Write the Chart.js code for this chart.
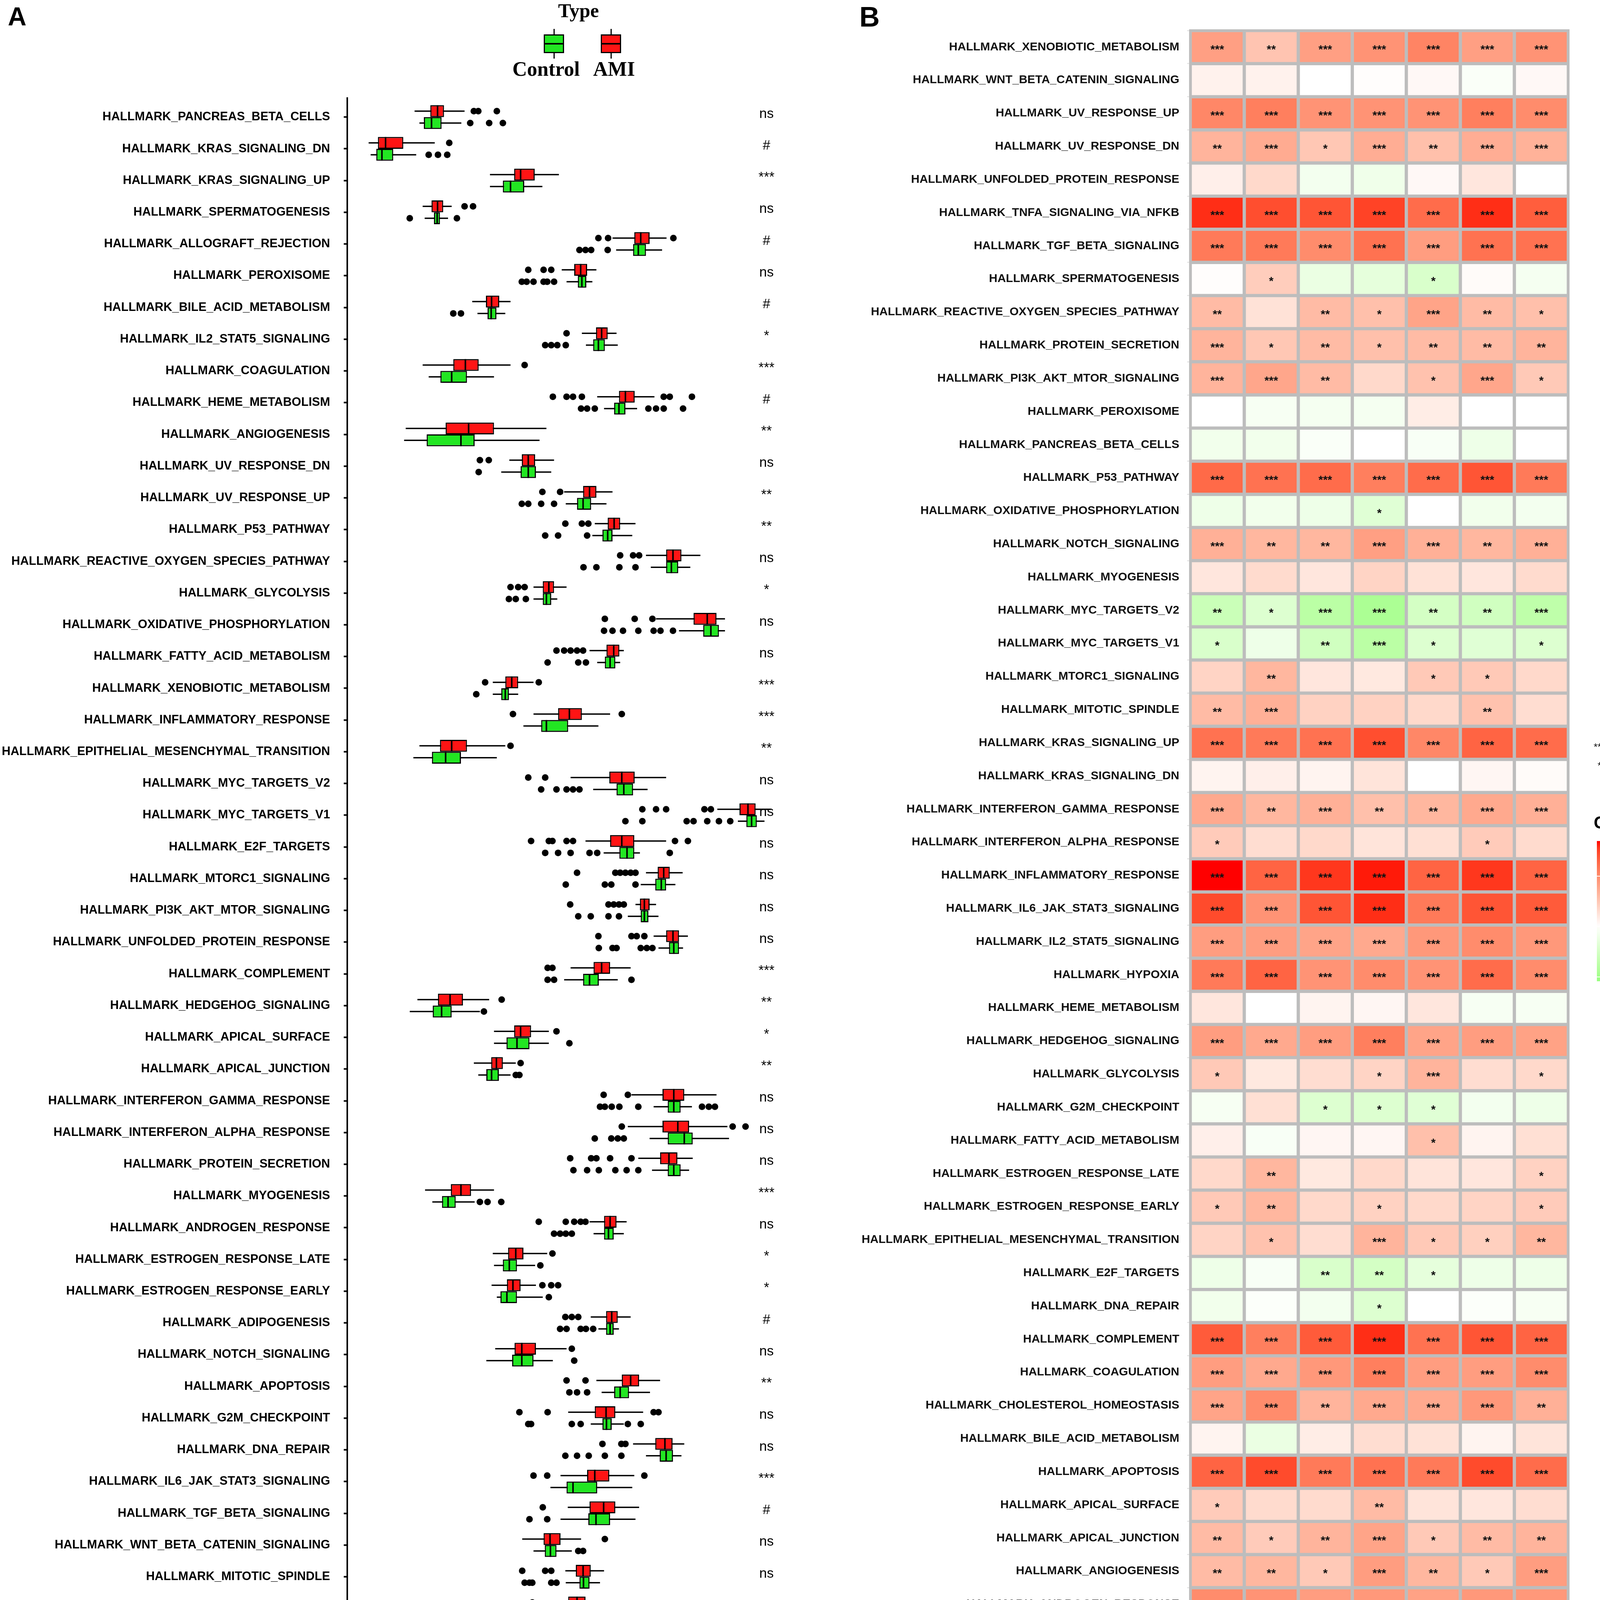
<!DOCTYPE html>
<html>
<head>
<meta charset="utf-8">
<script src="https://cdn.jsdelivr.net/npm/chart.js"></script>
<style>
html, body { margin: 0; padding: 0; background: #fff; }
#page { position: relative; width: 4328px; height: 4551px; overflow: hidden; background: #fff; font-family: 'Liberation Sans', Arial, sans-serif; }
.abs { position: absolute; white-space: nowrap; }
.serif { font-family: 'Liberation Serif', 'Times New Roman', serif; font-weight: bold; color: #000; }
.key { position: absolute; width: 46px; height: 42px; border: 3px solid #000; }
.key .mid { position: absolute; left: 0; right: 0; top: 19px; height: 4px; background: #000; }
.whisk { position: absolute; width: 3px; background: #000; }
.lgB { font-weight: bold; color: #000; }
</style>
</head>
<body>
<div id="page">
  <div class="abs" style="left:20px;top:4px;font-size:66px;font-weight:bold;">A</div>
  <div class="abs" style="left:2200px;top:2px;font-size:72px;font-weight:bold;">B</div>

  <!-- legend panel A -->
  <div class="abs serif" style="left:1381px;top:0px;width:200px;text-align:center;font-size:50px;line-height:54px;">Type</div>
  <div class="whisk" style="left:1417px;top:74px;height:16px;"></div>
  <div class="whisk" style="left:1417px;top:134px;height:16px;"></div>
  <div class="key" style="left:1392px;top:88px;background:#22e622;"><div class="mid"></div></div>
  <div class="whisk" style="left:1563px;top:74px;height:16px;"></div>
  <div class="whisk" style="left:1563px;top:134px;height:16px;"></div>
  <div class="key" style="left:1538px;top:88px;background:#ff1414;"><div class="mid"></div></div>
  <div class="abs serif" style="left:1298px;top:148px;width:200px;text-align:center;font-size:52px;line-height:58px;">Control</div>
  <div class="abs serif" style="left:1472px;top:148px;width:200px;text-align:center;font-size:52px;line-height:58px;">AMI</div>

  <div class="abs" style="left:0;top:0;"><canvas id="chartA" width="2100" height="4551"></canvas></div>
  <div class="abs" style="left:2150px;top:0;"><canvas id="chartB" width="1950" height="4551"></canvas></div>

  <!-- legend panel B -->
  <div class="abs" style="left:4040px;top:1892px;width:70px;text-align:right;font-size:26px;line-height:40px;color:#111;">***</div>
  <div class="abs lgB" style="left:4128px;top:1892px;font-size:30px;line-height:40px;">p&lt;0.001</div>
  <div class="abs" style="left:4040px;top:1940px;width:70px;text-align:right;font-size:26px;line-height:40px;color:#111;">**</div>
  <div class="abs lgB" style="left:4128px;top:1940px;font-size:30px;line-height:40px;">p&lt;0.01</div>
  <div class="abs" style="left:4040px;top:1988px;width:70px;text-align:right;font-size:26px;line-height:40px;color:#111;">*</div>
  <div class="abs lgB" style="left:4128px;top:1988px;font-size:30px;line-height:40px;">p&lt;0.05</div>
  <div class="abs lgB" style="left:4080px;top:2080px;font-size:44px;line-height:52px;">Correlation</div>
  <div id="cbar" class="abs" style="left:4088px;top:2153px;width:65px;height:359px;"></div>
  <div class="abs lgB" style="left:4175px;top:2221px;font-size:36px;line-height:42px;">0.5</div>
  <div class="abs lgB" style="left:4175px;top:2349px;font-size:36px;line-height:42px;">0.0</div>
  <div class="abs lgB" style="left:4175px;top:2478px;font-size:36px;line-height:42px;">&minus;0.5</div>
</div>

<script>
// ---------- panel A data ----------
var pathwaysA = ['HALLMARK_PANCREAS_BETA_CELLS','HALLMARK_KRAS_SIGNALING_DN','HALLMARK_KRAS_SIGNALING_UP','HALLMARK_SPERMATOGENESIS','HALLMARK_ALLOGRAFT_REJECTION','HALLMARK_PEROXISOME','HALLMARK_BILE_ACID_METABOLISM','HALLMARK_IL2_STAT5_SIGNALING','HALLMARK_COAGULATION','HALLMARK_HEME_METABOLISM','HALLMARK_ANGIOGENESIS','HALLMARK_UV_RESPONSE_DN','HALLMARK_UV_RESPONSE_UP','HALLMARK_P53_PATHWAY','HALLMARK_REACTIVE_OXYGEN_SPECIES_PATHWAY','HALLMARK_GLYCOLYSIS','HALLMARK_OXIDATIVE_PHOSPHORYLATION','HALLMARK_FATTY_ACID_METABOLISM','HALLMARK_XENOBIOTIC_METABOLISM','HALLMARK_INFLAMMATORY_RESPONSE','HALLMARK_EPITHELIAL_MESENCHYMAL_TRANSITION','HALLMARK_MYC_TARGETS_V2','HALLMARK_MYC_TARGETS_V1','HALLMARK_E2F_TARGETS','HALLMARK_MTORC1_SIGNALING','HALLMARK_PI3K_AKT_MTOR_SIGNALING','HALLMARK_UNFOLDED_PROTEIN_RESPONSE','HALLMARK_COMPLEMENT','HALLMARK_HEDGEHOG_SIGNALING','HALLMARK_APICAL_SURFACE','HALLMARK_APICAL_JUNCTION','HALLMARK_INTERFERON_GAMMA_RESPONSE','HALLMARK_INTERFERON_ALPHA_RESPONSE','HALLMARK_PROTEIN_SECRETION','HALLMARK_MYOGENESIS','HALLMARK_ANDROGEN_RESPONSE','HALLMARK_ESTROGEN_RESPONSE_LATE','HALLMARK_ESTROGEN_RESPONSE_EARLY','HALLMARK_ADIPOGENESIS','HALLMARK_NOTCH_SIGNALING','HALLMARK_APOPTOSIS','HALLMARK_G2M_CHECKPOINT','HALLMARK_DNA_REPAIR','HALLMARK_IL6_JAK_STAT3_SIGNALING','HALLMARK_TGF_BETA_SIGNALING','HALLMARK_WNT_BETA_CATENIN_SIGNALING','HALLMARK_MITOTIC_SPINDLE','HALLMARK_CHOLESTEROL_HOMEOSTASIS','HALLMARK_HYPOXIA','HALLMARK_TNFA_SIGNALING_VIA_NFKB'];

var sigA = ['ns','#','***','ns','#','ns','#','*','***','#','**','ns','**','**','ns','*','ns','ns','***','***','**','ns','ns','ns','ns','ns','ns','***','**','*','**','ns','ns','ns','***','ns','*','*','#','ns','**','ns','ns','***','#','ns','ns','***','***','***'];

// [whisker low, q1, median, q3, whisker high]
var amiStats = [
[0.120,0.159,0.177,0.193,0.244],[0.006,0.029,0.048,0.092,0.170],[0.307,0.367,0.383,0.418,0.478],[0.140,0.162,0.177,0.191,0.212],
[0.611,0.665,0.681,0.703,0.745],[0.485,0.516,0.532,0.548,0.571],[0.263,0.297,0.311,0.330,0.358],[0.535,0.570,0.584,0.599,0.621],
[0.140,0.216,0.246,0.279,0.358],[0.573,0.627,0.643,0.666,0.715],[0.098,0.197,0.254,0.317,0.447],[0.355,0.386,0.402,0.419,0.466],
[0.491,0.538,0.554,0.571,0.611],[0.567,0.599,0.615,0.630,0.668],[0.694,0.744,0.761,0.782,0.829],[0.415,0.438,0.453,0.466,0.497],
[0.719,0.812,0.846,0.869,0.890],[0.554,0.596,0.614,0.628,0.639],[0.314,0.345,0.361,0.377,0.415],[0.415,0.476,0.504,0.535,0.605],
[0.132,0.183,0.212,0.250,0.345],[0.507,0.603,0.634,0.666,0.744],[0.871,0.926,0.947,0.966,1.004],[0.544,0.605,0.634,0.665,0.744],
[0.694,0.723,0.738,0.753,0.785],[0.668,0.679,0.690,0.703,0.719],[0.713,0.744,0.761,0.776,0.798],[0.507,0.564,0.584,0.605,0.656],
[0.127,0.178,0.208,0.240,0.305],[0.317,0.367,0.383,0.409,0.453],[0.267,0.310,0.323,0.339,0.371],[0.658,0.735,0.763,0.789,0.869],
[0.649,0.735,0.773,0.801,0.896],[0.675,0.729,0.751,0.772,0.810],[0.146,0.210,0.235,0.260,0.317],[0.554,0.590,0.605,0.621,0.646],
[0.314,0.352,0.371,0.390,0.449],[0.311,0.349,0.364,0.383,0.421],[0.557,0.595,0.609,0.624,0.656],[0.320,0.368,0.386,0.421,0.497],
[0.571,0.634,0.656,0.677,0.729],[0.501,0.567,0.595,0.618,0.687],[0.662,0.717,0.741,0.760,0.789],[0.482,0.548,0.567,0.603,0.665],
[0.500,0.554,0.589,0.618,0.677],[0.387,0.440,0.456,0.482,0.533],[0.494,0.520,0.538,0.557,0.590],[0.440,0.501,0.523,0.544,0.605],
[0.481,0.529,0.545,0.567,0.611],[0.481,0.608,0.643,0.715,0.804]
];
var ctlStats = [
[0.132,0.143,0.162,0.187,0.236],[0.011,0.025,0.039,0.067,0.124],[0.307,0.339,0.358,0.392,0.437],[0.145,0.168,0.176,0.183,0.203],
[0.620,0.662,0.675,0.694,0.734],[0.497,0.525,0.535,0.546,0.561],[0.276,0.301,0.310,0.323,0.345],[0.545,0.563,0.576,0.592,0.624],
[0.155,0.184,0.212,0.250,0.317],[0.590,0.615,0.627,0.643,0.672],[0.094,0.150,0.235,0.269,0.430],[0.335,0.383,0.402,0.421,0.459],
[0.495,0.523,0.538,0.558,0.596],[0.561,0.586,0.599,0.611,0.660],[0.706,0.744,0.757,0.774,0.804],[0.415,0.438,0.447,0.459,0.474],
[0.776,0.836,0.855,0.875,0.890],[0.573,0.592,0.605,0.618,0.630],[0.314,0.335,0.345,0.354,0.377],[0.390,0.434,0.447,0.501,0.576],
[0.117,0.163,0.197,0.235,0.324],[0.563,0.621,0.639,0.662,0.698],[0.922,0.943,0.956,0.969,0.988],[0.589,0.628,0.647,0.665,0.679],
[0.681,0.717,0.732,0.744,0.767],[0.649,0.681,0.690,0.700,0.725],[0.725,0.751,0.763,0.776,0.786],[0.491,0.538,0.554,0.577,0.624],
[0.108,0.165,0.187,0.212,0.282],[0.317,0.348,0.374,0.405,0.453],[0.278,0.298,0.311,0.329,0.358],[0.713,0.748,0.763,0.780,0.808],
[0.703,0.748,0.789,0.810,0.900],[0.709,0.748,0.763,0.780,0.801],[0.164,0.188,0.203,0.222,0.269],[0.564,0.590,0.601,0.614,0.639],
[0.317,0.339,0.355,0.374,0.419],[0.324,0.333,0.349,0.374,0.438],[0.576,0.595,0.605,0.614,0.627],[0.298,0.362,0.386,0.415,0.463],
[0.584,0.615,0.630,0.652,0.704],[0.557,0.586,0.596,0.609,0.639],[0.694,0.728,0.744,0.761,0.782],[0.457,0.497,0.513,0.573,0.660],
[0.482,0.551,0.570,0.605,0.668],[0.415,0.443,0.457,0.472,0.510],[0.495,0.529,0.539,0.554,0.580],[0.421,0.478,0.497,0.520,0.580],
[0.453,0.507,0.519,0.548,0.576],[0.449,0.535,0.567,0.666,0.738]
];
var amiOut = [
[0.267,0.278,0.324],[0.206],[],[0.244,0.265],[0.576,0.600,0.762],[0.402,0.440,0.459],[],[0.497],[0.393],
[0.463,0.497,0.513,0.535,0.738,0.753,0.808],[],[0.282,0.304],[0.437,0.481],[0.494,0.535,0.551],[0.630,0.662,0.677],
[0.358,0.377,0.393],[0.592,0.666,0.710],[0.472,0.491,0.507,0.523,0.538],[0.295,0.428],[0.364,0.634],[0.358],[0.402,0.444],
[0.685,0.719,0.744,0.839,0.855],[0.409,0.453,0.462,0.497,0.513,0.766,0.798],[0.523,0.618,0.630,0.643,0.656,0.668],
[0.506,0.601,0.614,0.627,0.639],[0.576,0.658,0.671,0.690],[0.450,0.462],[0.336],[0.472],[0.383],[0.589,0.649],
[0.634,0.909,0.941],[0.506,0.558,0.571,0.605,0.658],[],[0.428,0.495,0.516,0.532,0.544],[0.462],[0.437,0.459,0.476],
[0.494,0.510,0.526],[0.510],[0.497,0.544],[0.380,0.450,0.713,0.725],[0.586,0.633,0.643],[0.415,0.449,0.690],[0.438],
[0.592],[0.387,0.444,0.459],[0.412],[0.440,0.462],[]
];
var ctlOut = [
[0.258,0.305,0.339],[0.155,0.178,0.201],[],[0.108,0.225],[0.529,0.544,0.558,0.599],[0.386,0.398,0.415,0.440,0.449,0.466],
[0.216,0.235],[0.444,0.459,0.474,0.495],[],[0.533,0.548,0.567,0.700,0.719,0.738,0.786],[],[0.279],[0.386,0.402,0.434,0.466],
[0.444,0.476,0.548],[0.539,0.571,0.628,0.668],[0.354,0.371,0.396],[0.590,0.611,0.637,0.675,0.713,0.730,0.761],
[0.450,0.526,0.545],[0.273],[],[],[0.434,0.472,0.497,0.513,0.529],[0.643,0.685,0.795,0.812,0.846,0.875,0.903],
[0.444,0.476,0.507,0.554,0.573,0.753],[0.495,0.592,0.608,0.668],[0.526,0.557,0.601,0.627],[0.577,0.611,0.621,0.681,0.696,0.710],
[0.450,0.466,0.658],[0.292],[0.504],[0.371,0.380],[0.580,0.592,0.609,0.628,0.675,0.833,0.850,0.865],[0.567,0.608,0.624,0.639],
[0.514,0.548,0.577,0.618,0.646,0.675],[0.282,0.301,0.335],[0.466,0.481,0.495,0.510],[0.432],[0.453],
[0.481,0.497,0.532,0.545,0.563],[0.516],[0.504,0.523,0.548],[0.402,0.409,0.510,0.532,0.649,0.681],
[0.494,0.523,0.552,0.592,0.633],[],[0.405,0.449],[0.526,0.538],[0.393,0.405,0.412,0.459,0.472],[0.310],[0.440,0.611],[]
];
var scoreTicks = [0, 0.25, 0.5, 0.75, 1];

// ---------- panel B data ----------
var pathwaysB = ['HALLMARK_XENOBIOTIC_METABOLISM','HALLMARK_WNT_BETA_CATENIN_SIGNALING','HALLMARK_UV_RESPONSE_UP','HALLMARK_UV_RESPONSE_DN','HALLMARK_UNFOLDED_PROTEIN_RESPONSE','HALLMARK_TNFA_SIGNALING_VIA_NFKB','HALLMARK_TGF_BETA_SIGNALING','HALLMARK_SPERMATOGENESIS','HALLMARK_REACTIVE_OXYGEN_SPECIES_PATHWAY','HALLMARK_PROTEIN_SECRETION','HALLMARK_PI3K_AKT_MTOR_SIGNALING','HALLMARK_PEROXISOME','HALLMARK_PANCREAS_BETA_CELLS','HALLMARK_P53_PATHWAY','HALLMARK_OXIDATIVE_PHOSPHORYLATION','HALLMARK_NOTCH_SIGNALING','HALLMARK_MYOGENESIS','HALLMARK_MYC_TARGETS_V2','HALLMARK_MYC_TARGETS_V1','HALLMARK_MTORC1_SIGNALING','HALLMARK_MITOTIC_SPINDLE','HALLMARK_KRAS_SIGNALING_UP','HALLMARK_KRAS_SIGNALING_DN','HALLMARK_INTERFERON_GAMMA_RESPONSE','HALLMARK_INTERFERON_ALPHA_RESPONSE','HALLMARK_INFLAMMATORY_RESPONSE','HALLMARK_IL6_JAK_STAT3_SIGNALING','HALLMARK_IL2_STAT5_SIGNALING','HALLMARK_HYPOXIA','HALLMARK_HEME_METABOLISM','HALLMARK_HEDGEHOG_SIGNALING','HALLMARK_GLYCOLYSIS','HALLMARK_G2M_CHECKPOINT','HALLMARK_FATTY_ACID_METABOLISM','HALLMARK_ESTROGEN_RESPONSE_LATE','HALLMARK_ESTROGEN_RESPONSE_EARLY','HALLMARK_EPITHELIAL_MESENCHYMAL_TRANSITION','HALLMARK_E2F_TARGETS','HALLMARK_DNA_REPAIR','HALLMARK_COMPLEMENT','HALLMARK_COAGULATION','HALLMARK_CHOLESTEROL_HOMEOSTASIS','HALLMARK_BILE_ACID_METABOLISM','HALLMARK_APOPTOSIS','HALLMARK_APICAL_SURFACE','HALLMARK_APICAL_JUNCTION','HALLMARK_ANGIOGENESIS','HALLMARK_ANDROGEN_RESPONSE','HALLMARK_ALLOGRAFT_REJECTION','HALLMARK_ADIPOGENESIS'];
var genes = ['ACSL1','GABARAPL1','IL1R2','IRAK3','MCEMP1','NFIL3','THBD'];

var corrACSL1 = [0.42,0.06,0.52,0.33,0.07,0.80,0.57,0.01,0.30,0.33, 0.33,0.00,-0.08,0.63,-0.10,0.35,0.11,-0.30,-0.22,0.19, 0.30,0.60,0.05,0.38,0.23,0.85,0.73,0.43,0.57,0.11, 0.43,0.24,-0.05,0.07,0.17,0.24,0.19,-0.10,-0.08,0.68, 0.43,0.40,0.05,0.65,0.23,0.30,0.30,0.50,0.57,0.30];
var corrGABARAPL1 = [0.26,0.06,0.55,0.37,0.17,0.72,0.57,0.22,0.13,0.25, 0.39,-0.05,-0.08,0.60,-0.08,0.32,0.16,-0.20,-0.10,0.32, 0.35,0.57,0.07,0.32,0.15,0.65,0.47,0.43,0.65,0.00, 0.38,0.10,0.14,-0.04,0.32,0.32,0.27,-0.04,-0.02,0.55, 0.38,0.50,-0.12,0.73,0.16,0.23,0.32,0.47,0.47,0.15];
var corrIL1R2 = [0.42,0.00,0.47,0.25,-0.07,0.70,0.50,-0.12,0.30,0.30, 0.30,-0.06,-0.03,0.62,-0.10,0.32,0.11,-0.38,-0.27,0.11, 0.20,0.60,0.05,0.35,0.17,0.78,0.70,0.40,0.47,0.05, 0.43,0.15,-0.20,0.04,0.10,0.17,0.15,-0.22,-0.07,0.68, 0.45,0.33,0.08,0.57,0.16,0.33,0.24,0.43,0.50,0.27];
var corrIRAK3 = [0.47,0.01,0.47,0.36,-0.09,0.75,0.60,-0.15,0.28,0.28, 0.17,-0.06,0.00,0.55,-0.18,0.42,0.19,-0.45,-0.38,0.10, 0.20,0.72,0.12,0.28,0.12,0.83,0.80,0.38,0.50,0.04, 0.55,0.19,-0.20,0.04,0.17,0.20,0.33,-0.25,-0.20,0.80, 0.55,0.38,0.15,0.60,0.30,0.40,0.43,0.45,0.45,0.24];
var corrMCEMP1 = [0.53,0.03,0.47,0.28,0.03,0.62,0.43,-0.22,0.40,0.30, 0.27,0.08,-0.04,0.62,0.00,0.35,0.13,-0.25,-0.20,0.24, 0.17,0.52,0.00,0.32,0.14,0.65,0.57,0.45,0.47,0.11, 0.40,0.33,-0.18,0.28,0.12,0.17,0.24,-0.15,0.00,0.60, 0.43,0.38,0.13,0.57,0.12,0.24,0.32,0.41,0.47,0.40];
var corrNFIL3 = [0.42,-0.03,0.55,0.36,0.11,0.80,0.60,0.02,0.30,0.30, 0.39,0.00,-0.10,0.70,-0.08,0.32,0.11,-0.27,-0.18,0.24, 0.27,0.65,0.04,0.38,0.23,0.78,0.70,0.50,0.62,-0.05, 0.43,0.15,-0.07,0.05,0.11,0.19,0.21,-0.10,-0.02,0.70, 0.43,0.45,0.05,0.73,0.11,0.30,0.24,0.45,0.57,0.27];
var corrTHBD = [0.47,0.03,0.50,0.34,0.00,0.67,0.60,-0.06,0.28,0.33, 0.24,0.00,0.00,0.57,-0.07,0.35,0.16,-0.36,-0.20,0.17, 0.15,0.62,0.02,0.35,0.16,0.65,0.68,0.45,0.50,-0.05, 0.41,0.17,-0.10,0.14,0.20,0.23,0.32,-0.10,-0.05,0.65, 0.50,0.35,0.12,0.62,0.15,0.33,0.43,0.45,0.52,0.30];

// number of stars (0 = not significant)
var starsACSL1 = [3,0,3,2,0,3,3,0,2,3, 3,0,0,3,0,3,0,2,1,0, 2,3,0,3,1,3,3,3,3,0, 3,1,0,0,0,1,0,0,0,3, 3,3,0,3,1,2,2,3,3,2];
var starsGABARAPL1 = [2,0,3,3,0,3,3,1,0,1, 3,0,0,3,0,2,0,1,0,2, 3,3,0,2,0,3,3,3,3,0, 3,0,0,0,2,2,1,0,0,3, 3,3,0,3,0,1,2,3,3,0];
var starsIL1R2 = [3,0,3,1,0,3,3,0,2,2, 2,0,0,3,0,2,0,3,2,0, 0,3,0,3,0,3,3,3,3,0, 3,0,1,0,0,0,0,2,0,3, 3,2,0,3,0,2,1,3,3,1];
var starsIRAK3 = [3,0,3,3,0,3,3,0,1,1, 0,0,0,3,1,3,0,3,3,0, 0,3,0,2,0,3,3,3,3,0, 3,1,1,0,0,1,3,2,1,3, 3,3,0,3,2,3,3,3,3,1];
var starsMCEMP1 = [3,0,3,2,0,3,3,1,3,2, 1,0,0,3,0,3,0,2,1,1, 0,3,0,2,0,3,3,3,3,0, 3,3,1,1,0,0,1,1,0,3, 3,3,0,3,0,1,2,3,3,3];
var starsNFIL3 = [3,0,3,3,0,3,3,0,2,2, 3,0,0,3,0,2,0,2,0,1, 2,3,0,3,1,3,3,3,3,0, 3,0,0,0,0,0,1,0,0,3, 3,3,0,3,0,2,1,3,3,2];
var starsTHBD = [3,0,3,3,0,3,3,0,1,2, 1,0,0,3,0,3,0,3,1,0, 0,3,0,3,0,3,3,3,3,0, 3,1,0,0,1,1,2,0,0,3, 3,2,0,3,0,2,3,3,3,2];

var corrByGene = [corrACSL1, corrGABARAPL1, corrIL1R2, corrIRAK3, corrMCEMP1, corrNFIL3, corrTHBD];
var starsByGene = [starsACSL1, starsGABARAPL1, starsIL1R2, starsIRAK3, starsMCEMP1, starsNFIL3, starsTHBD];

// ---------- colours (white -> red / green, interpolated in Lab like ggplot) ----------
function lin(c) { c /= 255; return c <= 0.04045 ? c / 12.92 : Math.pow((c + 0.055) / 1.055, 2.4); }
function gam(c) { var v = c <= 0.0031308 ? 12.92 * c : 1.055 * Math.pow(c, 1 / 2.4) - 0.055; return Math.round(255 * Math.min(1, Math.max(0, v))); }
function rgb2lab(c) {
    var r = lin(c[0]), g = lin(c[1]), b = lin(c[2]);
    var x = (0.4124564 * r + 0.3575761 * g + 0.1804375 * b) / 0.95047;
    var y = 0.2126729 * r + 0.7151522 * g + 0.0721750 * b;
    var z = (0.0193339 * r + 0.1191920 * g + 0.9503041 * b) / 1.08883;
    var f = function (t) { return t > 0.008856 ? Math.cbrt(t) : 7.787 * t + 16 / 116; };
    var fx = f(x), fy = f(y), fz = f(z);
    return [116 * fy - 16, 500 * (fx - fy), 200 * (fy - fz)];
}
function lab2rgb(l) {
    var fy = (l[0] + 16) / 116, fx = fy + l[1] / 500, fz = fy - l[2] / 200;
    var fi = function (t) { return t > 0.206897 ? t * t * t : (t - 16 / 116) / 7.787; };
    var x = fi(fx) * 0.95047, y = fi(fy), z = fi(fz) * 1.08883;
    var r = 3.2404542 * x - 1.5371385 * y - 0.4985314 * z;
    var g = -0.9692660 * x + 1.8760108 * y + 0.0415560 * z;
    var b = 0.0556434 * x - 0.2040259 * y + 1.0572252 * z;
    return 'rgb(' + gam(r) + ',' + gam(g) + ',' + gam(b) + ')';
}
var LAB_W = rgb2lab([255, 255, 255]), LAB_R = rgb2lab([255, 0, 0]), LAB_G = rgb2lab([0, 255, 0]);
function corrColor(v) {
    var t = Math.min(1, Math.abs(v) / 0.85), e = v >= 0 ? LAB_R : LAB_G;
    return lab2rgb([LAB_W[0] + (e[0] - LAB_W[0]) * t, LAB_W[1] + (e[1] - LAB_W[1]) * t, LAB_W[2] + (e[2] - LAB_W[2]) * t]);
}

// colour bar of the legend
(function () {
    var stops = [];
    for (var k = 0; k <= 20; k++) {
        var v = 0.848 - (0.848 + 0.543) * k / 20;
        stops.push(corrColor(v) + ' ' + (k * 5) + '%');
    }
    var cb = document.getElementById('cbar');
    cb.style.background = 'linear-gradient(to bottom,' + stops.join(',') + ')';
    [0.5, 0, -0.5].forEach(function (v) {
        var y = (0.848 - v) / (0.848 + 0.543) * 359;
        ['0px', '52px'].forEach(function (left) {
            var t = document.createElement('div');
            t.style.cssText = 'position:absolute;left:' + left + ';top:' + (y - 1) + 'px;width:13px;height:2px;background:#fff;';
            cb.appendChild(t);
        });
    });
})();

Chart.defaults.font.family = "'Liberation Sans', Arial, sans-serif";
var RED = '#ff1414', GREEN = '#22e622';
var dodge = 0.1875;

//-------------
//- PANEL A : box plots -
//-------------
function outlierPoints(list, shift) {
    var pts = [];
    list.forEach(function (row, i) { row.forEach(function (v) { pts.push({ x: v, y: i + shift }); }); });
    return pts;
}
function whiskerPoints(stats, shift) {
    var pts = [];
    stats.forEach(function (s, i) {
        pts.push({ x: s[0], y: i + shift }, { x: s[4], y: i + shift }, { x: null, y: null });
    });
    return pts;
}
var sigPlugin = {
    id: 'sigLabels',
    afterDatasetsDraw: function (chart) {
        var ctx = chart.ctx, xs = chart.scales.x, ys = chart.scales.y;
        ctx.save();
        ctx.font = "35px 'Liberation Sans', Arial, sans-serif";
        ctx.fillStyle = '#000';
        ctx.textAlign = 'center';
        ctx.textBaseline = 'alphabetic';
        sigA.forEach(function (s, i) { ctx.fillText(s, xs.getPixelForValue(0.993), ys.getPixelForValue(i) + 2); });
        ctx.restore();
    }
};

var boxChart = new Chart(document.getElementById('chartA').getContext('2d'), {
    type: 'bar',
    data: {
        datasets: [
            { label: 'AMI', data: amiStats.map(function (s, i) { return { x: [s[1], s[3]], y: i }; }), backgroundColor: RED, borderColor: '#000', borderWidth: 3, borderSkipped: false, order: 1, categoryPercentage: 0.75, barPercentage: 1 },
            { label: 'Control', data: ctlStats.map(function (s, i) { return { x: [s[1], s[3]], y: i }; }), backgroundColor: GREEN, borderColor: '#000', borderWidth: 3, borderSkipped: false, order: 1, categoryPercentage: 0.75, barPercentage: 1 },
            { type: 'scatter', label: 'AMI whisker', indexAxis: 'x', showLine: true, spanGaps: false, data: whiskerPoints(amiStats, -dodge), borderColor: '#000', borderWidth: 3.5, pointRadius: 0, order: 3 },
            { type: 'scatter', label: 'Control whisker', indexAxis: 'x', showLine: true, spanGaps: false, data: whiskerPoints(ctlStats, dodge), borderColor: '#000', borderWidth: 3.5, pointRadius: 0, order: 3 },
            { type: 'scatter', label: 'AMI median', indexAxis: 'x', data: amiStats.map(function (s, i) { return { x: s[2], y: i - dodge }; }), pointStyle: 'line', pointRotation: 90, pointRadius: 15, pointBorderWidth: 4, pointBorderColor: '#000', order: 0 },
            { type: 'scatter', label: 'Control median', indexAxis: 'x', data: ctlStats.map(function (s, i) { return { x: s[2], y: i + dodge }; }), pointStyle: 'line', pointRotation: 90, pointRadius: 15, pointBorderWidth: 4, pointBorderColor: '#000', order: 0 },
            { type: 'scatter', label: 'AMI outliers', indexAxis: 'x', data: outlierPoints(amiOut, -dodge), pointRadius: 8.5, pointBackgroundColor: '#000', pointBorderWidth: 0, order: 2 },
            { type: 'scatter', label: 'Control outliers', indexAxis: 'x', data: outlierPoints(ctlOut, dodge), pointRadius: 8.5, pointBackgroundColor: '#000', pointBorderWidth: 0, order: 2 }
        ]
    },
    options: {
        indexAxis: 'y',
        responsive: false,
        devicePixelRatio: 1,
        animation: false,
        layout: { padding: { left: 0, right: 81, top: 251, bottom: 52 }, autoPadding: false },
        plugins: { legend: { display: false }, tooltip: { enabled: false } },
        scales: {
            x: {
                type: 'linear', min: -0.047, max: 1.048, offset: false,
                afterBuildTicks: function (s) { s.ticks = scoreTicks.map(function (v) { return { value: v }; }); },
                ticks: { autoSkip: false, minRotation: 45, maxRotation: 45, padding: 6, color: '#222', font: { size: 34, weight: 'bold' }, callback: function (v) { return Number(v).toFixed(2); } },
                grid: { display: true, drawOnChartArea: false, drawTicks: true, tickLength: 9, tickWidth: 4, color: '#000' },
                border: { display: true, color: '#000', width: 4 },
                title: { display: true, text: 'Score', color: '#000', font: { size: 34, weight: 'bold' }, padding: { top: 10, bottom: 0 } },
                afterFit: function (s) { s.height = 170; }
            },
            y: {
                type: 'linear', min: -0.6, max: 49.6, reverse: true, offset: false,
                afterBuildTicks: function (s) { s.ticks = pathwaysA.map(function (p, i) { return { value: i }; }); },
                ticks: { autoSkip: false, padding: 35, color: '#000', font: { size: 31, weight: 'bold' }, callback: function (v, i) { return pathwaysA[i]; } },
                grid: { display: true, offset: false, drawOnChartArea: false, drawTicks: true, tickLength: 9, tickWidth: 4, color: '#000' },
                border: { display: true, color: '#000', width: 4 },
                afterFit: function (s) { s.width = 889; }
            }
        }
    },
    plugins: [sigPlugin]
});

//-------------
//- PANEL B : correlation heat map -
//-------------
var starPlugin = {
    id: 'cellStars',
    beforeDatasetsDraw: function (chart) {
        var a = chart.chartArea, ctx = chart.ctx;
        ctx.save();
        ctx.fillStyle = '#bdbdbd';
        ctx.fillRect(a.left - 3, a.top - 3, a.right - a.left + 6, a.bottom - a.top + 6);
        ctx.restore();
    },
    afterDatasetsDraw: function (chart) {
        var ctx = chart.ctx;
        ctx.save();
        ctx.font = "bold 30px 'Liberation Sans', Arial, sans-serif";
        ctx.fillStyle = '#111';
        ctx.textAlign = 'center';
        ctx.textBaseline = 'middle';
        chart.data.datasets.forEach(function (ds, j) {
            chart.getDatasetMeta(j).data.forEach(function (el, i) {
                var n = starsByGene[j][i];
                if (!n) return;
                var c = el.getCenterPoint();
                ctx.fillText('*'.repeat(n), c.x, c.y + 7);
            });
        });
        ctx.restore();
    }
};

var heatChart = new Chart(document.getElementById('chartB').getContext('2d'), {
    type: 'bar',
    data: {
        labels: pathwaysB,
        datasets: genes.map(function (g, j) {
            return {
                label: g,
                data: pathwaysB.map(function () { return [j, j + 1]; }),
                backgroundColor: corrByGene[j].map(corrColor),
                borderColor: '#bdbdbd',
                borderWidth: 4.5,
                borderSkipped: false,
                grouped: false,
                categoryPercentage: 1,
                barPercentage: 1
            };
        })
    },
    options: {
        indexAxis: 'y',
        responsive: false,
        devicePixelRatio: 1,
        animation: false,
        layout: { padding: { left: 0, right: 85, top: 78, bottom: 0 }, autoPadding: false },
        plugins: { legend: { display: false }, tooltip: { enabled: false } },
        scales: {
            x: {
                type: 'linear', min: 0, max: genes.length,
                afterBuildTicks: function (s) { s.ticks = genes.map(function (g, j) { return { value: j + 0.5 }; }); },
                ticks: { autoSkip: false, minRotation: 45, maxRotation: 45, padding: 18, color: '#000', font: { size: 40, weight: 'bold', style: 'italic' }, callback: function (v, i) { return genes[i]; } },
                grid: { display: true, drawOnChartArea: false, drawTicks: true, tickLength: 8, tickWidth: 2, color: '#dddddd' },
                border: { display: false },
                afterFit: function (s) { s.height = 232; }
            },
            y: {
                type: 'category', offset: true,
                ticks: { autoSkip: false, padding: 20, color: '#111', font: { size: 30, weight: 'bold' } },
                grid: { display: true, drawOnChartArea: false, drawTicks: true, tickLength: 8, tickWidth: 2, color: '#dddddd' },
                border: { display: false },
                afterFit: function (s) { s.width = 897; }
            }
        }
    },
    plugins: [starPlugin]
});
</script>
</body>
</html>
